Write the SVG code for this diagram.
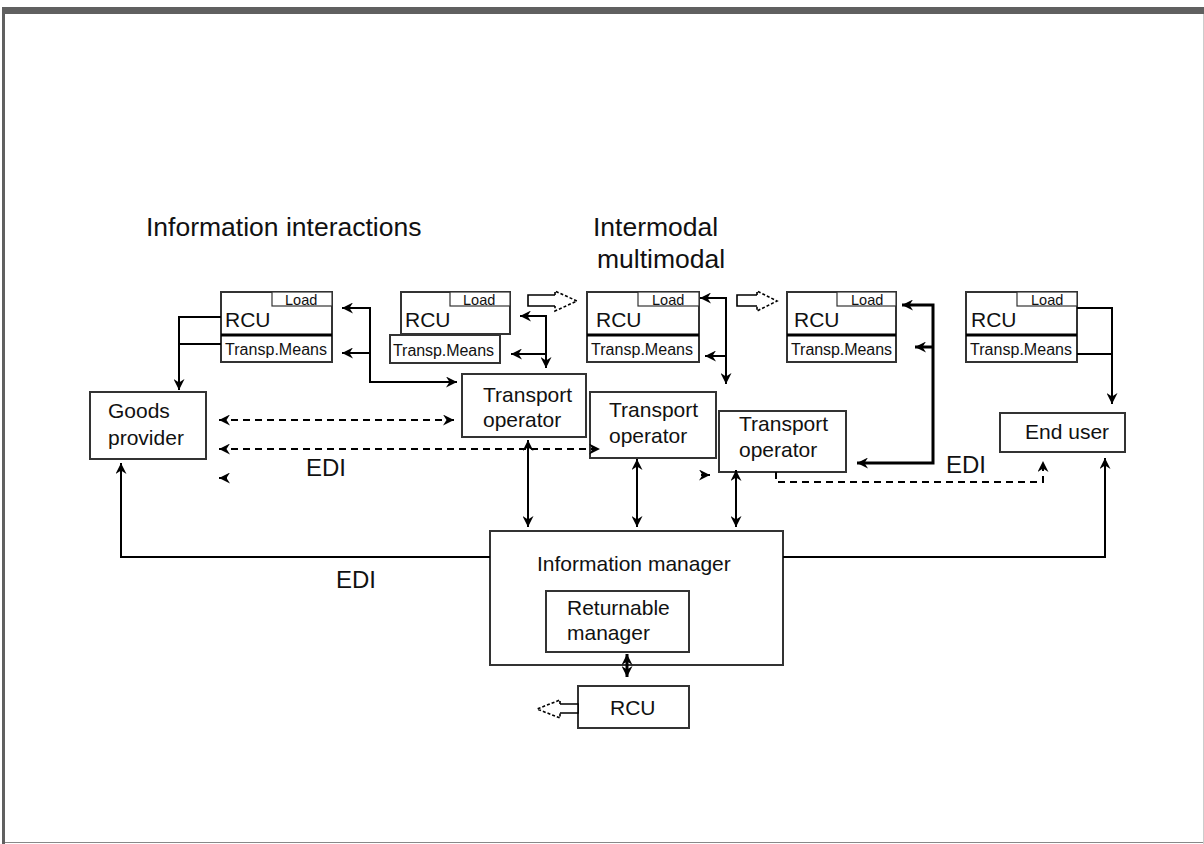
<svg xmlns="http://www.w3.org/2000/svg" width="1204" height="844" viewBox="0 0 1204 844">
<defs>
<style>
text{font-family:"Liberation Sans",Arial,sans-serif;fill:#111}
.box{fill:#fff;stroke:#333;stroke-width:2}
.thin{fill:#fff;stroke:#333;stroke-width:1.2}
.ln{fill:none;stroke:#000;stroke-width:2}
.thk{fill:none;stroke:#000;stroke-width:3}
.dash{fill:none;stroke:#000;stroke-width:2;stroke-dasharray:7,5}
.hol{fill:#fff;stroke:#000;stroke-width:1.6}
.holh{fill:#fff;stroke:#000;stroke-width:1.6;stroke-dasharray:3,2}
.t21{font-size:21px}
.ttl{font-size:26.5px}
.edi{font-size:24px}
.rcu{font-size:21px}
.tm{font-size:16px}
.ld{font-size:14.5px}
</style>
<marker id="ah" markerWidth="11" markerHeight="11" refX="11" refY="5.5" orient="auto-start-reverse" markerUnits="userSpaceOnUse">
<path d="M0,0 L11,5.5 L0,11 L3.5,5.5 Z" fill="#000"/>
</marker>
</defs>
<rect x="0" y="0" width="1204" height="844" fill="#fff"/>
<g id="frame">
<rect x="2" y="7" width="1202" height="7" fill="#606060"/>
<rect x="2" y="7" width="3" height="837" fill="#606060"/>
<line x1="5" y1="842.5" x2="1204" y2="842.5" stroke="#888" stroke-width="1"/>
<line x1="1203.5" y1="14" x2="1203.5" y2="844" stroke="#ccc" stroke-width="1"/>
</g>
<g id="titles">
<text class="ttl" x="146" y="236">Information interactions</text>
<text class="ttl" x="593" y="236">Intermodal</text>
<text class="ttl" x="597" y="268">multimodal</text>
<text class="edi" x="306" y="476">EDI</text>
<text class="edi" x="336" y="588">EDI</text>
<text class="edi" x="946" y="473">EDI</text>
</g>
<g id="rcu1">
<rect class="box" x="221" y="292" width="111" height="70"/>
<line x1="221" y1="335" x2="332" y2="335" stroke="#000" stroke-width="3"/>
<rect class="thin" x="272" y="292" width="60" height="14"/>
<text class="ld" x="285" y="305">Load</text>
<text class="rcu" x="225" y="327">RCU</text>
<text class="tm" x="225" y="355" textLength="102">Transp.Means</text>
</g>
<g id="rcu2">
<rect class="box" x="401" y="292" width="109" height="42"/>
<rect class="thin" x="450" y="292" width="60" height="14"/>
<text class="ld" x="463" y="305">Load</text>
<text class="rcu" x="405" y="327">RCU</text>
<rect class="box" x="390" y="335" width="110" height="28"/>
<text class="tm" x="393" y="356" textLength="101">Transp.Means</text>
</g>
<g id="rcu3">
<rect class="box" x="587" y="292" width="112" height="70"/>
<line x1="587" y1="335" x2="699" y2="335" stroke="#000" stroke-width="3"/>
<rect class="thin" x="638" y="292" width="61" height="14"/>
<text class="ld" x="652" y="305">Load</text>
<text class="rcu" x="596" y="327">RCU</text>
<text class="tm" x="591" y="355" textLength="102">Transp.Means</text>
</g>
<g id="rcu4">
<rect class="box" x="787" y="292" width="109" height="70"/>
<line x1="787" y1="335" x2="896" y2="335" stroke="#000" stroke-width="3"/>
<rect class="thin" x="837" y="292" width="59" height="14"/>
<text class="ld" x="851" y="305">Load</text>
<text class="rcu" x="794" y="327">RCU</text>
<text class="tm" x="791" y="355" textLength="101">Transp.Means</text>
</g>
<g id="rcu5">
<rect class="box" x="966" y="292" width="111" height="70"/>
<line x1="966" y1="335" x2="1077" y2="335" stroke="#000" stroke-width="3"/>
<rect class="thin" x="1017" y="292" width="60" height="14"/>
<text class="ld" x="1031" y="305">Load</text>
<text class="rcu" x="971" y="327">RCU</text>
<text class="tm" x="970" y="355" textLength="102">Transp.Means</text>
</g>
<g id="goods-provider">
<rect class="box" x="90" y="392" width="116" height="67"/>
<text class="t21" x="108" y="418">Goods</text>
<text class="t21" x="108" y="445">provider</text>
</g>
<g id="transport-operator-1">
<rect class="box" x="462" y="374" width="124" height="63"/>
<text class="t21" x="483" y="402">Transport</text>
<text class="t21" x="483" y="427">operator</text>
</g>
<g id="transport-operator-2">
<rect class="box" x="590" y="392" width="126" height="66"/>
<text class="t21" x="609" y="417">Transport</text>
<text class="t21" x="609" y="443">operator</text>
</g>
<g id="transport-operator-3">
<rect class="box" x="719" y="411" width="127" height="61"/>
<text class="t21" x="739" y="431">Transport</text>
<text class="t21" x="739" y="457">operator</text>
</g>
<g id="end-user">
<rect class="box" x="1000" y="413" width="125" height="39"/>
<text class="t21" x="1025" y="439">End user</text>
</g>
<g id="information-manager">
<rect class="box" x="490" y="531" width="293" height="134"/>
<text class="t21" x="537" y="571">Information manager</text>
</g>
<g id="returnable-manager">
<rect class="box" x="546" y="591" width="143" height="61"/>
<text class="t21" x="567" y="615">Returnable</text>
<text class="t21" x="567" y="640">manager</text>
</g>
<g id="rcu-bottom">
<rect class="box" x="578" y="686" width="111" height="42"/>
<text class="rcu" x="610" y="715">RCU</text>
</g>
<g id="connectors">
<path class="hol" d="M555,295 H528 V306 H555"/>
<path class="holh" d="M555,295 V291 L577,301 L555,311 V306"/>
<path class="hol" d="M757,295 H737 V306 H757"/>
<path class="holh" d="M757,295 V291 L777,301 L757,311 V306"/>
<path class="hol" d="M560,704 H578 V713 H560"/>
<path class="holh" d="M560,704 V700 L537,709 L560,718 V713"/>
<path class="ln" d="M221,317 H179 V390" marker-end="url(#ah)"/>
<path class="ln" d="M221,344 H179"/>
<path class="ln" d="M342,308 H370 V382 H457" marker-start="url(#ah)" marker-end="url(#ah)"/>
<path class="ln" d="M342,353 H370" marker-start="url(#ah)"/>
<path class="ln" d="M520,316 H546 V368" marker-start="url(#ah)" marker-end="url(#ah)"/>
<path class="ln" d="M511,354 H546" marker-start="url(#ah)"/>
<path class="ln" d="M700,298 H726 V384" marker-start="url(#ah)" marker-end="url(#ah)"/>
<path class="ln" d="M705,356 H726" marker-start="url(#ah)"/>
<path class="thk" d="M902,305 H933 V463 H857" marker-start="url(#ah)" marker-end="url(#ah)"/>
<path class="thk" d="M915,347 H933" marker-start="url(#ah)"/>
<path class="ln" d="M1077,308 H1112 V404" marker-end="url(#ah)"/>
<path class="ln" d="M1077,354 H1112"/>
<path class="dash" d="M219,420 H454" marker-start="url(#ah)" marker-end="url(#ah)"/>
<path class="dash" d="M219,449 H600" marker-start="url(#ah)" marker-end="url(#ah)"/>
<path class="ln" d="M219,478 H227" marker-start="url(#ah)"/>
<path class="ln" d="M701,475 H710" marker-end="url(#ah)"/>
<path class="dash" d="M776,472 V482 H1043 V461" marker-end="url(#ah)"/>
<path class="ln" d="M528,440 V527" marker-start="url(#ah)" marker-end="url(#ah)"/>
<path class="ln" d="M637,459 V527" marker-start="url(#ah)" marker-end="url(#ah)"/>
<path class="ln" d="M736,470 V527" marker-start="url(#ah)" marker-end="url(#ah)"/>
<path class="ln" d="M490,557 H121 V463" marker-end="url(#ah)"/>
<path class="ln" d="M783,557 H1105 V458" marker-end="url(#ah)"/>
<path class="thk" d="M627,654 V677" marker-start="url(#ah)" marker-end="url(#ah)"/>
</g>
</svg>
